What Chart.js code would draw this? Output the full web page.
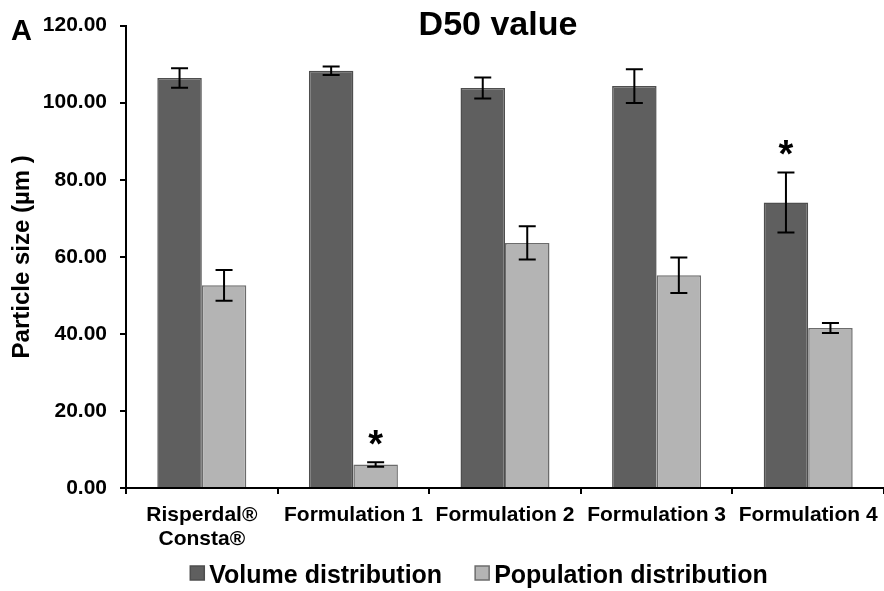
<!DOCTYPE html>
<html>
<head>
<meta charset="utf-8">
<style>
  html, body { margin: 0; padding: 0; background: #ffffff; }
  #wrap { width: 884px; height: 591px; position: relative; }
</style>
<script src="https://cdn.jsdelivr.net/npm/chart.js@4/dist/chart.umd.min.js"></script>
</head>
<body>
<div id="wrap"><canvas id="chart" width="884" height="591"></canvas></div>
<script>
// D50 particle size per formulation (µm), mean ± SD
const categories = [['Risperdal®', 'Consta®'], 'Formulation 1', 'Formulation 2', 'Formulation 3', 'Formulation 4'];
const volumeD50 = [106.4, 108.3, 103.8, 104.3, 74.1];
const volumeSD = [2.5, 1.1, 2.7, 4.4, 7.8];
const populationD50 = [52.6, 6.1, 63.6, 55.2, 41.5];
const populationSD = [4.0, 0.6, 4.3, 4.6, 1.3];
// statistically significant differences flagged with an asterisk
const volumeSignificant = [false, false, false, false, true];
const populationSignificant = [false, true, false, false, false];
const yTicks = [0, 20, 40, 60, 80, 100, 120];

const FONT = "'Liberation Sans', Arial, Helvetica, sans-serif";

const whiteBackground = {
  id: 'whiteBackground',
  beforeDraw(chart) {
    const c = chart.ctx;
    c.save();
    c.fillStyle = '#ffffff';
    c.fillRect(0, 0, chart.width, chart.height);
    c.restore();
  }
};

// error bars and significance markers, placed with the value scale
const errorBars = {
  id: 'errorBars',
  afterDatasetsDraw(chart) {
    const c = chart.ctx;
    const y = chart.scales.y;
    c.save();
    chart.data.datasets.forEach((ds, i) => {
      const meta = chart.getDatasetMeta(i);
      meta.data.forEach((bar, j) => {
        const v = ds.data[j];
        const e = ds.errors[j];
        const top = y.getPixelForValue(v + e);
        const bot = y.getPixelForValue(v - e);
        const x = bar.x;
        c.strokeStyle = '#000000';
        c.lineWidth = 2;
        c.beginPath();
        c.moveTo(x, top); c.lineTo(x, bot);
        c.moveTo(x - 8.5, top); c.lineTo(x + 8.5, top);
        c.moveTo(x - 8.5, bot); c.lineTo(x + 8.5, bot);
        c.stroke();
        if (ds.significant[j]) {
          c.fillStyle = '#000000';
          c.font = 'bold 38px ' + FONT;
          c.textAlign = 'center';
          c.textBaseline = 'alphabetic';
          c.fillText('*', x, top - 5);
        }
      });
    });
    c.restore();
  }
};

// heading, panel letter and legend
const annotations = {
  id: 'annotations',
  afterDraw(chart) {
    const c = chart.ctx;
    c.save();
    c.fillStyle = '#000000';
    c.textBaseline = 'alphabetic';
    c.font = 'bold 34px ' + FONT;
    c.textAlign = 'center';
    c.fillText('D50 value', 498, 35);
    c.font = 'bold 29px ' + FONT;
    c.textAlign = 'left';
    c.fillText('A', 11, 40);

    c.font = 'bold 25px ' + FONT;
    const items = chart.data.datasets.map(ds => ({
      label: ds.label, fill: ds.backgroundColor, stroke: ds.borderColor,
      w: c.measureText(ds.label).width
    }));
    const box = 14, gap = 5, between = 33;
    const total = items.reduce((s, it) => s + box + gap + it.w, 0) + between * (items.length - 1);
    let x = 479 - total / 2;
    items.forEach(it => {
      c.fillStyle = it.fill;
      c.fillRect(x, 566, box, box);
      c.strokeStyle = it.stroke;
      c.lineWidth = 1.5;
      c.strokeRect(x, 566, box, box);
      c.fillStyle = '#000000';
      c.fillText(it.label, x + box + gap, 583);
      x += box + gap + it.w + between;
    });
    c.restore();
  }
};

new Chart(document.getElementById('chart'), {
  type: 'bar',
  data: {
    labels: categories,
    datasets: [
      {
        label: 'Volume distribution',
        data: volumeD50,
        errors: volumeSD,
        significant: volumeSignificant,
        backgroundColor: '#5f5f5f',
        borderColor: '#4e4e4e',
        borderWidth: 1.5,
        categoryPercentage: 0.587,
        barPercentage: 1.0
      },
      {
        label: 'Population distribution',
        data: populationD50,
        errors: populationSD,
        significant: populationSignificant,
        backgroundColor: '#b4b4b4',
        borderColor: '#6c6c6c',
        borderWidth: 1.5,
        categoryPercentage: 0.587,
        barPercentage: 1.0
      }
    ]
  },
  options: {
    responsive: false,
    animation: false,
    layout: { padding: { top: 20, left: 0, right: -6, bottom: 37 } },
    plugins: {
      legend: { display: false },
      title: { display: false },
      tooltip: { enabled: false }
    },
    scales: {
      x: {
        grid: { display: true, drawOnChartArea: false, offset: true, color: '#000000', lineWidth: 2, tickLength: 6 },
        border: { color: '#000000', width: 2 },
        ticks: {
          color: '#000000',
          font: { family: FONT, size: 21, weight: 'bold', lineHeight: 1.15 },
          padding: 9,
          maxRotation: 0,
          autoSkip: false
        },
        afterFit(scale) {
          scale.height = 66;
          scale.paddingLeft = 0;
          scale.paddingRight = 0;
        }
      },
      y: {
        min: 0,
        max: 120,
        afterBuildTicks(scale) { scale.ticks = yTicks.map(v => ({ value: v })); },
        grid: { display: true, drawOnChartArea: false, color: '#000000', lineWidth: 2, tickLength: 6 },
        border: { color: '#000000', width: 2 },
        ticks: {
          color: '#000000',
          font: { family: FONT, size: 21, weight: 'bold' },
          padding: 13,
          callback: v => Number(v).toFixed(2)
        },
        title: {
          display: true,
          text: 'Particle size (µm )',
          color: '#000000',
          font: { family: FONT, size: 24, weight: 'bold' },
          padding: { top: 8, bottom: 0 }
        },
        afterFit(scale) { scale.width = 126; }
      }
    }
  },
  plugins: [whiteBackground, errorBars, annotations]
});
</script>
</body>
</html>
